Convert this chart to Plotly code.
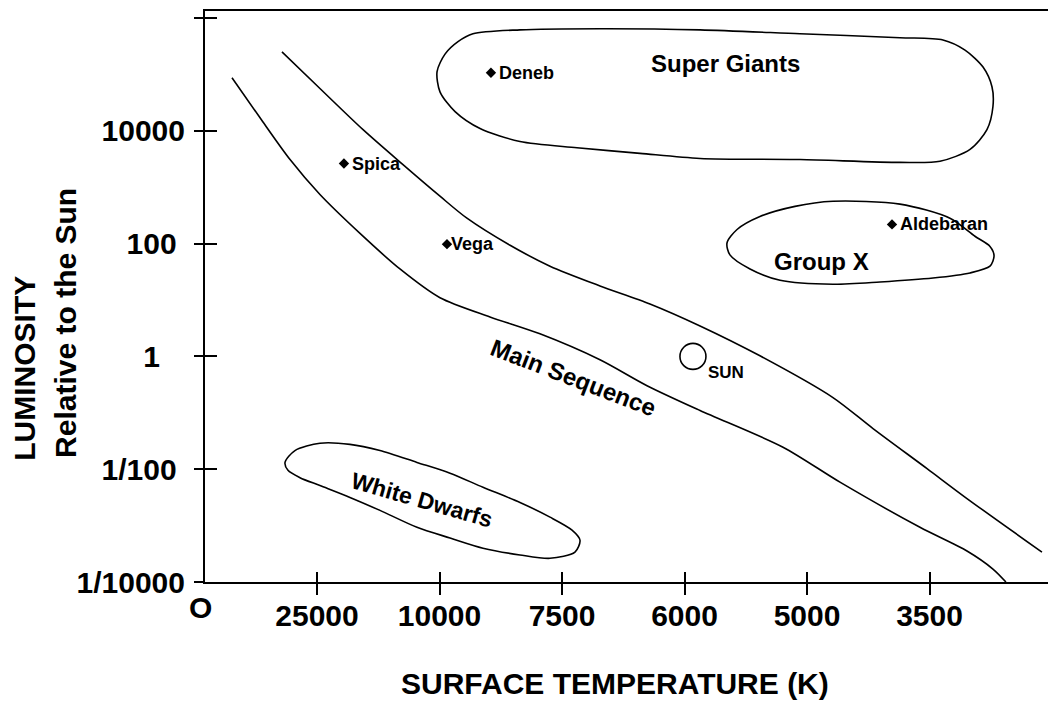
import plotly.graph_objects as go

# ---------------- data (x = position on the temperature scale, 1 = 25000 K ... 6 = 3500 K;
# y values are log10 of luminosity relative to the Sun) ----------------
temp_tick_pos = [1, 2, 3, 4, 5, 6]
temp_tick_text = ["25000", "10000", "7500", "6000", "5000", "3500"]

lum_tick_vals = [1e6, 1e4, 1e2, 1, 1e-2, 1e-4]
lum_tick_text = ["", "10000", "100\u00a0", "1\u00a0\u00a0\u00a0", "1/100\u00a0", "1/10000"]

ms_upper_x = [0.714, 1.024, 1.376, 1.702, 2.004, 2.224, 2.576, 2.902, 3.310, 3.718,
              4.127, 4.616, 5.212, 5.539, 5.980, 6.306, 6.918]
ms_upper_logL = [5.40, 4.75, 4.02, 3.40, 2.84, 2.45, 1.97, 1.60, 1.25, 0.93,
                 0.54, 0.01, -0.73, -1.28, -1.99, -2.52, -3.47]

ms_lower_x = [0.306, 0.535, 0.780, 1.024, 1.351, 1.677, 2.004, 2.412, 2.820, 3.310,
              3.694, 4.127, 4.804, 5.269, 5.922, 6.306, 6.518, 6.624]
ms_lower_logL = [4.94, 4.23, 3.49, 2.87, 2.18, 1.55, 1.04, 0.70, 0.40, -0.06,
                 -0.52, -0.96, -1.61, -2.23, -3.03, -3.45, -3.77, -4.00]

giants_x = [2.273, 2.657, 3.310, 4.127, 4.943, 5.759, 6.110, 6.290, 6.437, 6.510,
            6.518, 6.469, 6.331, 6.086, 5.759, 4.943, 4.127, 3.637, 3.122, 2.657,
            2.331, 2.127, 2.004, 1.980, 2.045, 2.151, 2.273]
giants_logL = [5.72, 5.79, 5.81, 5.79, 5.72, 5.65, 5.61, 5.43, 5.13, 4.78,
               4.43, 4.02, 3.67, 3.46, 3.44, 3.49, 3.51, 3.60, 3.70, 3.81,
               4.04, 4.34, 4.69, 5.05, 5.36, 5.58, 5.72]

groupx_x = [5.212, 5.759, 6.167, 6.371, 6.494, 6.527, 6.494, 6.331, 6.029, 5.596,
            5.212, 4.780, 4.535, 4.371, 4.347, 4.429, 4.616, 4.902, 5.212]
groupx_logL = [2.75, 2.70, 2.45, 2.13, 1.95, 1.78, 1.60, 1.48, 1.39, 1.32,
               1.28, 1.35, 1.55, 1.80, 2.01, 2.25, 2.48, 2.66, 2.75]

dwarfs_x = [0.739, 0.820, 1.024, 1.269, 1.514, 1.816, 2.086, 2.355, 2.657, 2.902,
            3.082, 3.147, 3.106, 2.902, 2.657, 2.355, 2.086, 1.816, 1.514, 1.269,
            1.024, 0.861, 0.763, 0.739]
dwarfs_logL = [-1.88, -1.67, -1.54, -1.56, -1.67, -1.88, -2.07, -2.32, -2.59, -2.85,
               -3.08, -3.26, -3.47, -3.58, -3.52, -3.40, -3.22, -3.03, -2.73, -2.50,
               -2.29, -2.15, -2.02, -1.88]

star_names = ["Deneb", "Spica", "Vega", "Aldebaran"]
star_x = [2.420, 1.220, 2.061, 5.694]
star_logL = [5.03, 3.42, 1.99, 2.34]

sun_x = [4.069]
sun_logL = [0.0]

region_labels = ["Super Giants", "Group X", "Main Sequence", "White Dwarfs"]
region_x = [4.331, 5.122, 3.090, 1.857]
region_logL = [5.19, 1.69, -0.38, -2.55]
region_angle = [0, 0, 21, 16]
region_size = [24, 24, 24, 23]

# ---------------- figure ----------------
FONT = "Liberation Sans, Arial, sans-serif"
X_RANGE = [0.0857, 7.0327]
Y_RANGE = [-4.0, 6.124]

W, H = 1056, 708
OFF = 8  # page body margin of the html page
ML, MR, MT, MB = 205 - OFF, OFF, 9 - OFF, H - (582 - OFF)
PW, PH = W - ML - MR, H - MT - MB


def lum(vals):
    return [10 ** v for v in vals]


def paper_xy(px, py):
    """window pixel position -> paper coordinates"""
    fx, fy = px - OFF, py - OFF
    return (fx - ML) / PW, (H - MB - fy) / PH


fig = go.Figure()

line_style = dict(color="black", width=1.6, shape="spline", smoothing=0.8)

fig.add_trace(go.Scatter(x=ms_upper_x, y=lum(ms_upper_logL), mode="lines",
                         line=line_style, hoverinfo="skip", showlegend=False))
fig.add_trace(go.Scatter(x=ms_lower_x, y=lum(ms_lower_logL), mode="lines",
                         line=line_style, hoverinfo="skip", showlegend=False))
for xs, ys in [(giants_x, giants_logL), (groupx_x, groupx_logL), (dwarfs_x, dwarfs_logL)]:
    fig.add_trace(go.Scatter(x=xs, y=lum(ys), mode="lines", line=line_style,
                             hoverinfo="skip", showlegend=False))

# stars
fig.add_trace(go.Scatter(x=star_x, y=lum(star_logL), mode="markers",
                         marker=dict(symbol="diamond", size=8, color="black"),
                         hovertext=star_names, showlegend=False))
for name, sx, sy in zip(star_names, star_x, star_logL):
    fig.add_annotation(x=sx, y=sy, text=name, showarrow=False, xanchor="left",
                       yanchor="middle", xshift=6 if name != "Vega" else 2,
                       font=dict(family=FONT, size=18, color="black", weight="bold"))

# sun
fig.add_trace(go.Scatter(x=sun_x, y=lum(sun_logL), mode="markers",
                         marker=dict(symbol="circle-open", size=26, color="black",
                                     line=dict(color="black", width=1.6)),
                         hovertext=["Sun"], showlegend=False))
fig.add_annotation(x=sun_x[0], y=sun_logL[0], text="SUN", showarrow=False,
                   xanchor="left", yanchor="middle", xshift=13, yshift=-16,
                   font=dict(family=FONT, size=17, color="black", weight="bold"))

# region labels
for txt, rx, ry, ang, sz in zip(region_labels, region_x, region_logL, region_angle, region_size):
    fig.add_annotation(x=rx, y=ry, text=txt, showarrow=False, textangle=ang,
                       xanchor="center", yanchor="middle",
                       font=dict(family=FONT, size=sz, color="black", weight="bold"))

# dummy trace for the overlay axes (outside half of the crossing ticks)
fig.add_trace(go.Scatter(x=[None], y=[None], xaxis="x2", yaxis="y2",
                         showlegend=False, hoverinfo="skip"))

big = dict(family=FONT, size=30, color="black", weight="bold")

# origin label and axis titles (window pixel positions)
for txt, px, py, ang in [("O", 200, 608, 0),
                         ("SURFACE TEMPERATURE (K)", 615, 684, 0),
                         ("LUMINOSITY", 25, 368, -90),
                         ("Relative to the Sun", 66, 322, -90)]:
    ax, ay = paper_xy(px, py)
    fig.add_annotation(x=ax, y=ay, xref="paper", yref="paper", text=txt, textangle=ang,
                       showarrow=False, xanchor="center", yanchor="middle", font=big)

fig.update_layout(
    width=W, height=H,
    margin=dict(l=ML, r=MR, t=MT, b=MB, pad=0),
    paper_bgcolor="white", plot_bgcolor="white",
    showlegend=False,
    xaxis=dict(range=X_RANGE, tickmode="array", tickvals=temp_tick_pos, ticktext=temp_tick_text,
               ticks="inside", ticklen=10, tickwidth=2, tickcolor="black",
               showline=True, linecolor="black", linewidth=2, mirror=True,
               showgrid=False, zeroline=False, tickfont=big, ticklabelstandoff=6),
    yaxis=dict(type="log", range=Y_RANGE, tickmode="array", tickvals=lum_tick_vals,
               ticktext=lum_tick_text, ticks="inside", ticklen=12, tickwidth=2,
               tickcolor="black", showline=True, linecolor="black", linewidth=2,
               showgrid=False, zeroline=False, tickfont=big, ticklabelstandoff=12),
    xaxis2=dict(overlaying="x", anchor="y2", side="bottom", range=X_RANGE,
                tickmode="array", tickvals=temp_tick_pos, ticks="outside", ticklen=12,
                tickwidth=2, tickcolor="black", showticklabels=False, showline=False,
                showgrid=False, zeroline=False),
    yaxis2=dict(overlaying="y", anchor="x2", side="left", type="log", range=Y_RANGE,
                tickmode="array", tickvals=lum_tick_vals, ticks="outside", ticklen=10,
                tickwidth=2, tickcolor="black", showticklabels=False, showline=False,
                showgrid=False, zeroline=False),
)

fig.write_html("out.html")
